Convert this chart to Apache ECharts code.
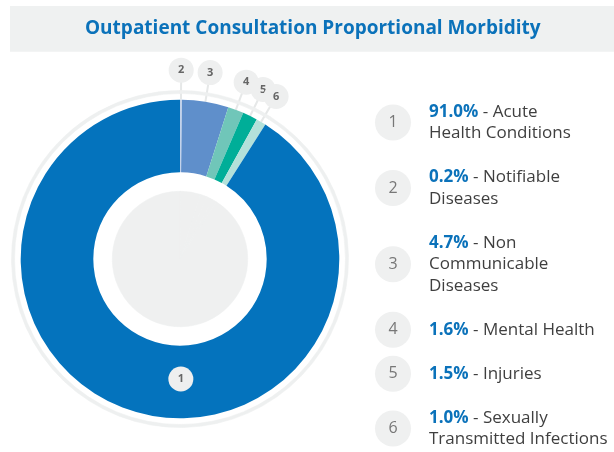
<!DOCTYPE html>
<html><head><meta charset="utf-8">
<script src="https://cdn.jsdelivr.net/npm/echarts@6/dist/echarts.min.js"></script>
<style>html,body{margin:0;padding:0;background:#fff}#c{width:614px;height:452px}</style>
</head><body><div id="c"></div>
<script>
const titleText = 'Outpatient Consultation Proportional Morbidity';
const categories = ['Acute Health Conditions', 'Notifiable Diseases', 'Non Communicable Diseases', 'Mental Health', 'Injuries', 'Sexually Transmitted Infections'];
const values = [91.0, 0.2, 4.7, 1.6, 1.5, 1.0];
const itemNumbers = ['1', '2', '3', '4', '5', '6'];
const legendLines = [['Acute', 'Health Conditions'], ['Notifiable', 'Diseases'], ['Non', 'Communicable', 'Diseases'], ['Mental Health'], ['Injuries'], ['Sexually', 'Transmitted Infections']];
const colors = ['#0473bd', '#c3d2ea', '#5f8fcb', '#70c6b9', '#00ae98', '#b3e1da'];
const pieOrder = [1, 2, 3, 4, 5, 0];

const FONT = 'Open Sans';
const center = [180, 259];
const LINE_H = 21.5;
const numOf = name => itemNumbers[categories.indexOf(name)];

const pieData = pieOrder.map(i => {
  const d = { name: categories[i], value: values[i], itemStyle: { color: colors[i] } };
  if (i === 0) {
    d.label = { position: 'inside', offset: [36, -1] };
    d.labelLine = { show: false };
  }
  return d;
});
const plainData = color => pieOrder.map(i => ({ name: categories[i], value: values[i], itemStyle: { color: color, borderColor: color, borderWidth: 0.6 } }));

const circleRich = {
  c: { width: 25, height: 25, lineHeight: 25, borderRadius: 12.5, backgroundColor: '#eeefef', align: 'center', verticalAlign: 'middle', color: '#666', fontSize: 11, fontWeight: 'bold', fontFamily: FONT }
};

const option = {
  animation: false,
  backgroundColor: '#ffffff',
  title: {
    text: titleText, left: 10, top: 6, padding: [13, 74, 12.7, 75], backgroundColor: '#eff1f1',
    textStyle: { fontSize: 19, fontWeight: 'bold', color: '#0b72ba', fontFamily: FONT, lineHeight: 20, width: 455 }
  },
  legend: [
    {
      orient: 'vertical', left: 370, top: 93.75, height: 400, padding: 0, itemGap: 8, icon: 'none', itemWidth: 0, itemHeight: 0, selectedMode: false,
      data: categories,
      formatter: name => {
        const i = categories.indexOf(name);
        const pad = [];
        for (let k = 1; k < legendLines[i].length; k++) pad.push('{s| }');
        const padStr = pad.join('\n');
        return (padStr ? padStr + '\n' : '') + '{n|' + itemNumbers[i] + '}' + (padStr ? '\n' + padStr : '');
      },
      textStyle: {
        rich: {
          n: { width: 36, height: 36, lineHeight: 36, borderRadius: 18, backgroundColor: '#eff0f0', align: 'center', verticalAlign: 'middle', color: '#777', fontSize: 16, fontFamily: FONT },
          s: { fontSize: 1, lineHeight: LINE_H / 2, height: LINE_H / 2 }
        }
      }
    },
    {
      orient: 'vertical', left: 424, top: 101, height: 400, padding: 0, itemGap: 22.5, icon: 'none', itemWidth: 0, itemHeight: 0, selectedMode: false,
      data: categories,
      formatter: name => {
        const i = categories.indexOf(name);
        const lines = legendLines[i];
        return '{p|' + values[i].toFixed(1) + '%}{t| - ' + lines[0] + '}' + lines.slice(1).map(l => '\n{t|' + l + '}').join('');
      },
      textStyle: {
        lineHeight: LINE_H,
        rich: {
          p: { fontWeight: 'bold', color: '#0b72ba', fontSize: 17, lineHeight: LINE_H, fontFamily: FONT },
          t: { color: '#3f3f3f', fontSize: 17, lineHeight: LINE_H, fontFamily: FONT }
        }
      }
    }
  ],
  series: [
    {
      type: 'pie', center: center, radius: [165.5, 168.5], startAngle: 90, silent: true,
      label: { show: false }, labelLine: { show: false }, emphasis: { disabled: true },
      data: plainData('#eef0f0')
    },
    {
      type: 'pie', center: center, radius: [0, 67.7], startAngle: 90, silent: true,
      label: { show: false }, labelLine: { show: false }, emphasis: { disabled: true },
      data: plainData('#eff0f0')
    },
    {
      type: 'pie', center: center, radius: [86.7, 159.3], startAngle: 90, clockwise: true,
      avoidLabelOverlap: false, emphasis: { disabled: true },
      labelLayout: { hideOverlap: false, moveOverlap: null },
      label: {
        show: true, position: 'outside', distanceToLabelLine: -12.5,
        formatter: p => '{c|' + numOf(p.name) + '}', rich: circleRich
      },
      labelLine: { show: true, length: 29.5, length2: 0, smooth: false, lineStyle: { color: '#e6e8e8', width: 2 } },
      data: pieData
    }
  ]
};
const chart = echarts.init(document.getElementById('c'));
chart.setOption(option);
</script></body></html>
